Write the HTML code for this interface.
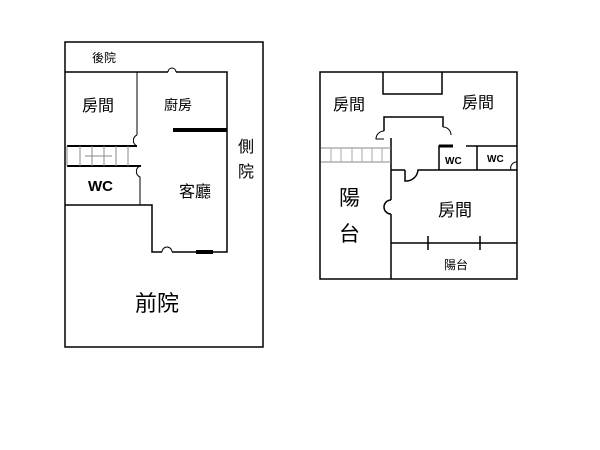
<html><body style="margin:0;background:#fff">
<svg width="600" height="450" xmlns="http://www.w3.org/2000/svg" style="font-family:'Liberation Sans','Noto Sans CJK TC',sans-serif">
<g fill="none" stroke="#000" stroke-width="1.5">
<!-- left plan -->
<rect x="65" y="42" width="198" height="305"/>
<path d="M65 72H168M176 72H227V252H213M196 252H172M162 252H152V205H65"/>
<path d="M168 72a4 4 0 0 1 8 0" stroke-width="1"/>
<path d="M137 72V135M137 135a6 6 0 0 0 0 11M140 166a6 6 0 0 0 0 11V205" stroke-width="1"/>
<path d="M162 252a5 5 0 0 1 10 0" stroke-width="1"/>
<path d="M67 146H137M67 166H141" stroke-width="2"/>
<path d="M67 146V166M80 146V166M92 146V166M104 146V166M116 146V166M128 146V166M85 156H112" stroke="#888" stroke-width="1"/>
<path d="M173 130H227" stroke-width="4"/>
<path d="M196 252H213" stroke-width="4"/>
<!-- right plan -->
<rect x="320" y="72" width="197" height="207"/>
<path d="M383 72V94H442V72"/>
<path d="M384 131V117H443V127"/>
<path d="M384 131a8 8 0 0 0 -8 8h8M443 127a8 8 0 0 1 8 8" stroke-width="1"/>
<path d="M391 138V200M391 214V279M391 200a7 7 0 0 0 0 14"/>
<path d="M321 148H391M321 162H391" stroke="#888" stroke-width="1"/>
<path d="M331 148V162M341 148V162M352 148V162M362 148V162M372 148V162M382 148V162" stroke="#aaa" stroke-width="1"/>
<path d="M391 170H405M405 170V181a12 12 0 0 0 13 -11H517"/>
<path d="M439 170V146H453M466 146H517M477 146V170"/>
<path d="M439 146H453" stroke-width="3"/>
<path d="M517 162a6 6 0 0 0 -6 8" stroke-width="1"/>
<path d="M391 243H517M428 236V250M480 236V250"/>
</g>
<g font-size="14" fill="#000">
<text x="92" y="62" font-size="12">後院</text>
<text x="82" y="111" font-size="16">房間</text>
<text x="164" y="110">廚房</text>
<text x="238" y="152" font-size="16">側</text>
<text x="238" y="177" font-size="16">院</text>
<text x="88" y="191" font-size="15" font-weight="bold">WC</text>
<text x="179" y="197" font-size="16">客廳</text>
<text x="135" y="311" font-size="22">前院</text>
<text x="333" y="110" font-size="16">房間</text>
<text x="462" y="108" font-size="16">房間</text>
<text x="445" y="164" font-size="10" font-weight="bold">WC</text>
<text x="487" y="162" font-size="10" font-weight="bold">WC</text>
<text x="339" y="205" font-size="21">陽</text>
<text x="339" y="241" font-size="21">台</text>
<text x="438" y="216" font-size="17">房間</text>
<text x="444" y="269" font-size="12">陽台</text>
</g>
</svg>
</body></html>
